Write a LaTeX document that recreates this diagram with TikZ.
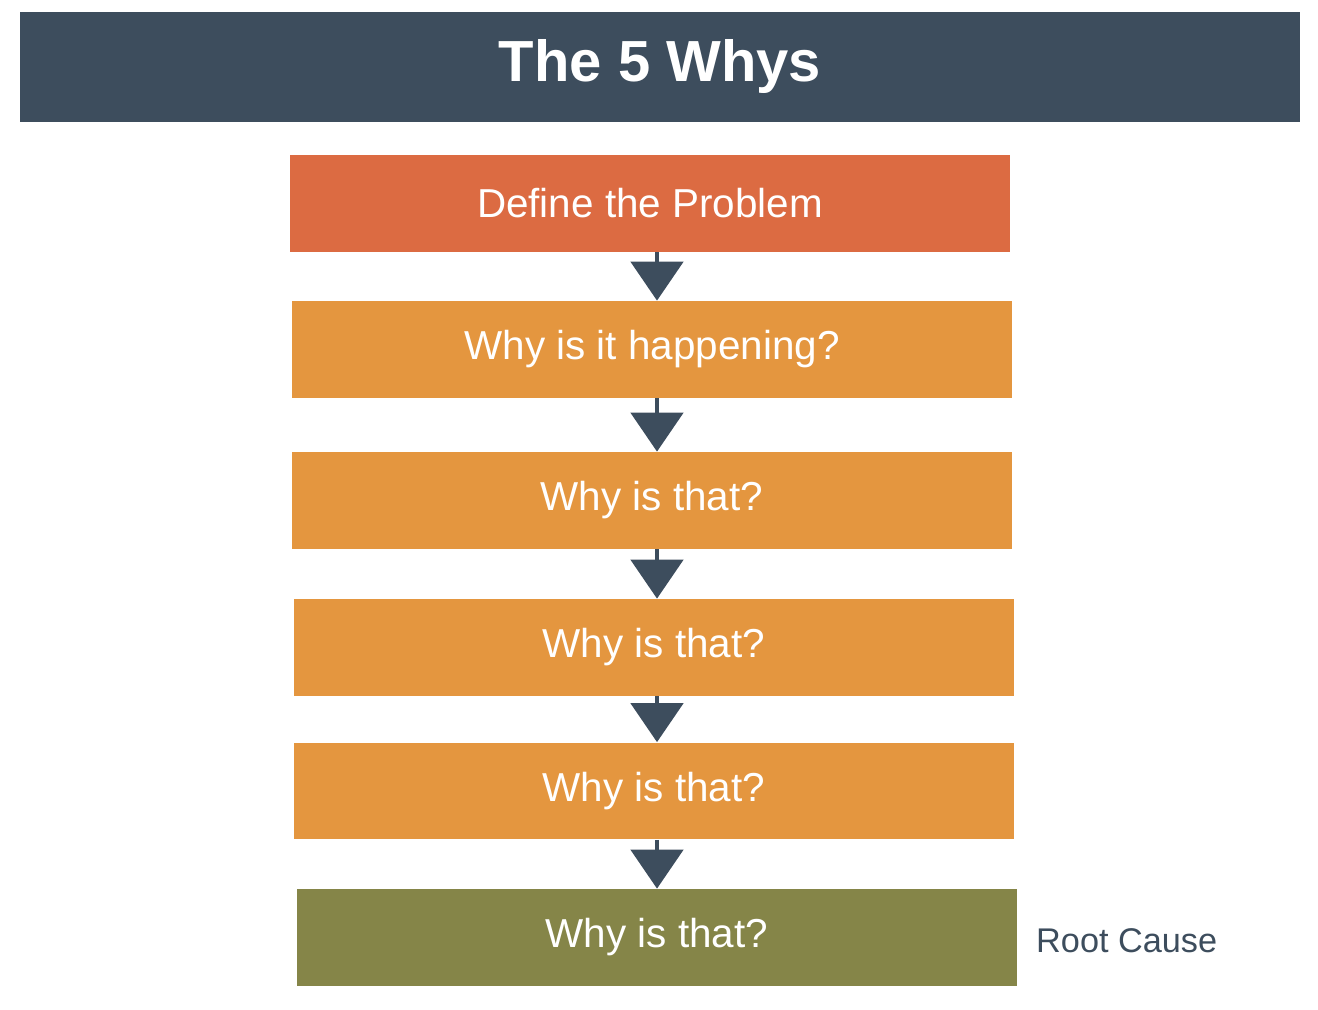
\documentclass[tikz,border=0pt]{standalone}
\usepackage{fontspec}
\setmainfont{Liberation Sans}
\usetikzlibrary{arrows.meta}
\usetikzlibrary{positioning}
\definecolor{slate}{HTML}{3D4D5D}
\definecolor{redorange}{HTML}{DC6B42}
\definecolor{amber}{HTML}{E4963F}
\definecolor{olive}{HTML}{858548}
\tikzset{
  whybox/.style={rectangle,minimum width=14.4cm,minimum height=1.94cm,inner sep=0pt,text=white,font=\fontsize{23}{26}\selectfont},
  why/.style={whybox,fill=amber},
  down/.style={slate,line width=2.8pt,-{Triangle[width=1.04cm,length=0.78cm]}}
}
\begin{document}
\begin{tikzpicture}[x=0.02cm,y=-0.02cm]
  \useasboundingbox (0,0) rectangle (1318,1010);
  \fill[slate] (20,12) rectangle (1300,122);
  \node[text=white,font=\fontsize{33}{36}\selectfont\bfseries] (title) at (660,67){The 5 Whys};

  \node[whybox,fill=redorange] (p) at (650,203.5){Define the Problem};
  \node[why] (w1) at (652,349.5){Why is it happening?};
  \node[why] (w2) at (652,500.5){Why is that?};
  \node[why] (w3) at (654,647.5){Why is that?};
  \node[why] (w4) at (654,791){Why is that?};
  \node[whybox,fill=olive] (w5) at (657,937.5){Why is that?};
  \node[anchor=west,text=slate,font=\fontsize{19.5}{22}\selectfont] (rc) at (1030,941){Root Cause};

  \draw[down](p.south -| 657,0)--(w1.north -| 657,0);
  \draw[down](w1.south -| 657,0)--(w2.north -| 657,0);
  \draw[down](w2.south -| 657,0)--(w3.north -| 657,0);
  \draw[down](w3.south -| 657,0)--(w4.north -| 657,0);
  \draw[down](w4.south -| 657,0)--(w5.north -| 657,0);
\end{tikzpicture}
\end{document}
